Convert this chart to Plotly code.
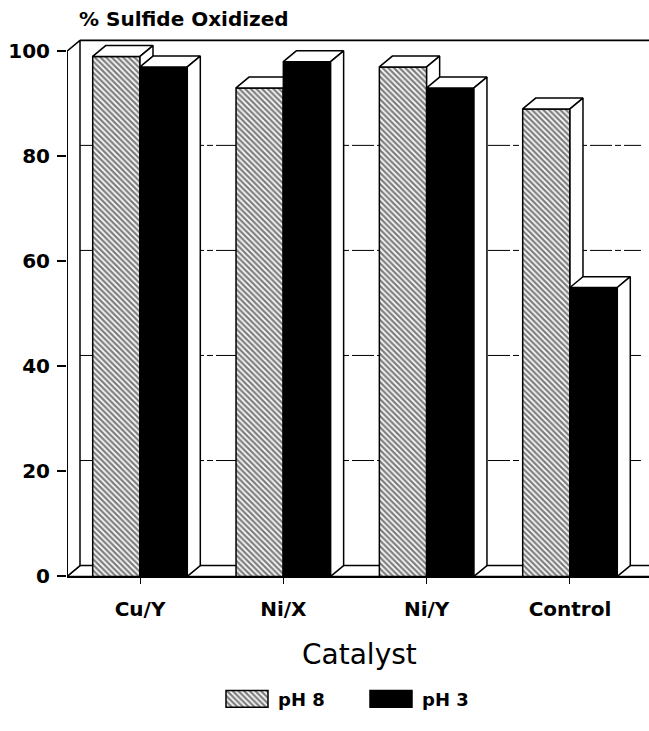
import plotly.graph_objects as go

# ---- data -------------------------------------------------------------
categories = ["Cu/Y", "Ni/X", "Ni/Y", "Control"]
ph8_values = [99, 93, 97, 89]
ph3_values = [97, 98, 93, 55]
series_names = ["pH 8", "pH 3"]
y_tick_values = [0, 20, 40, 60, 80, 100]

# ---- page geometry (pixels) ----------------------------------------------
W, H = 649, 731
PX_LEFT, PX_RIGHT = 67, 649          # plot frame, horizontal
PX_ZERO, PX_TOP = 586, 30            # plot frame, vertical (value 0 at PX_ZERO)
PX_HUNDRED = 52                      # where the value 100 sits
CAT0_PX, CAT_STEP_PX = 140, 143.33   # first category centre and spacing
DEPTH_PX = (13, 11)                  # oblique depth offset (right, up)
GRID_END_PX = 641

UNIT_PX = (PX_ZERO - PX_HUNDRED) / 100.0
x_lo = (PX_LEFT - CAT0_PX) / CAT_STEP_PX
x_hi = (PX_RIGHT - CAT0_PX) / CAT_STEP_PX
y_hi = (PX_ZERO - PX_TOP) / UNIT_PX
dx = DEPTH_PX[0] / CAT_STEP_PX
dy = DEPTH_PX[1] / UNIT_PX
x_grid_end = (GRID_END_PX - CAT0_PX) / CAT_STEP_PX
bar_w = 0.33
y_max = max(y_tick_values)

FONT = "DejaVu Sans"
INK = "black"


def px_x(p):
    return p / W


def px_y(p):
    return 1 - p / H


def face(xs, ys, axes, fill="white", lw=1.5):
    return go.Scatter(
        x=list(xs) + [xs[0]], y=list(ys) + [ys[0]],
        mode="lines", fill="toself", fillcolor=fill,
        line=dict(color=INK, width=lw),
        xaxis=axes[0], yaxis=axes[1],
        hoverinfo="skip", showlegend=False,
    )


def line(xs, ys, axes=("x", "y"), lw=1.5, dash="solid"):
    return go.Scatter(
        x=xs, y=ys, mode="lines",
        line=dict(color=INK, width=lw, dash=dash),
        xaxis=axes[0], yaxis=axes[1],
        hoverinfo="skip", showlegend=False,
    )


fig = go.Figure()
base_axes = ("x", "y")

# floor slab and left wall of the box
fig.add_trace(face([x_lo, x_lo + dx, x_hi + 1, x_hi + 1], [0, dy, dy, 0], base_axes))
fig.add_trace(face([x_lo, x_lo, x_lo + dx, x_lo + dx], [0, y_max, y_max + dy, dy], base_axes))

# dashed grid lines on the back wall
for v in y_tick_values[1:-1]:
    fig.add_trace(line([x_lo + dx, x_grid_end], [v + dy, v + dy], lw=1,
                       dash="22px,3px,6px,3px"))

# top edge of the back wall
fig.add_trace(line([x_lo + dx, x_hi + 1], [y_max + dy, y_max + dy], lw=1.8))

# bars: pH 8 on the second layer, pH 3 on the third so it hides the one behind
hatch = dict(color="white", line=dict(color=INK, width=1.5),
             pattern=dict(shape="\\", fgcolor=INK, bgcolor="white", size=4, solidity=0.58))
solid = dict(color=INK, line=dict(color=INK, width=1.5))
series = [
    (series_names[0], ph8_values, -bar_w, ("x2", "y2"), hatch),
    (series_names[1], ph3_values, 0.0, ("x3", "y3"), solid),
]
positions = list(range(len(categories)))
for name, vals, off, axes, marker in series:
    fig.add_trace(go.Bar(
        x=positions, y=vals, width=bar_w, offset=off, name=name,
        marker=marker, xaxis=axes[0], yaxis=axes[1], showlegend=False,
        hovertext=categories,
    ))
    for c, v in zip(positions, vals):
        x0, x1 = c + off, c + off + bar_w
        fig.add_trace(face([x0, x0 + dx, x1 + dx, x1], [v, v + dy, v + dy, v], axes))
        fig.add_trace(face([x1, x1 + dx, x1 + dx, x1], [0, dy, v + dy, v], axes))

# front value axis line
fig.add_trace(line([x_lo, x_lo], [0, y_max], lw=1.8))

# legend swatches drawn with their own bars
leg_x = [247, 391]
leg_w = 42
leg_top, leg_bot = 702, 719
for lx, marker in zip(leg_x, [hatch, solid]):
    fig.add_trace(go.Bar(
        x=[lx], y=[leg_bot - leg_top], base=[H - leg_bot], width=leg_w,
        marker=marker, xaxis="x4", yaxis="y4", showlegend=False, hoverinfo="skip"))

x_dom = [PX_LEFT / W, PX_RIGHT / W]
y_dom = [1 - PX_ZERO / H, 1 - PX_TOP / H]
hidden = dict(visible=False, fixedrange=True)

fig.update_layout(
    width=W, height=H,
    margin=dict(l=0, r=0, t=0, b=0),
    paper_bgcolor="white", plot_bgcolor="rgba(0,0,0,0)",
    barmode="overlay",
    font=dict(family=FONT, color=INK),
    xaxis=dict(
        domain=x_dom, range=[x_lo, x_hi],
        tickvals=positions, ticktext=categories,
        ticks="outside", ticklen=6, tickwidth=1.2, tickcolor=INK,
        tickfont=dict(family=FONT, size=20, color=INK, weight="bold"),
        showgrid=False, zeroline=False, showline=True, linecolor=INK, linewidth=1.8,
        ticklabelstandoff=8,
    ),
    yaxis=dict(
        domain=y_dom, range=[0, y_hi],
        tickvals=y_tick_values,
        ticks="outside", ticklen=9, tickwidth=1.5, tickcolor=INK,
        tickfont=dict(family=FONT, size=20, color=INK, weight="bold"),
        showgrid=False, zeroline=False, showline=False,
        ticklabelstandoff=3,
    ),
    xaxis2=dict(overlaying="x", range=[x_lo, x_hi], **hidden),
    yaxis2=dict(overlaying="y", range=[0, y_hi], **hidden),
    xaxis3=dict(overlaying="x", range=[x_lo, x_hi], **hidden),
    yaxis3=dict(overlaying="y", range=[0, y_hi], **hidden),
    xaxis4=dict(domain=[0, 1], range=[0, W], anchor="y4", **hidden),
    yaxis4=dict(domain=[0, 1], range=[0, H], anchor="x4", **hidden),
    annotations=[
        dict(text="% Sulfide Oxidized", x=px_x(77), y=px_y(19), xref="paper", yref="paper",
             xanchor="left", yanchor="middle", showarrow=False,
             font=dict(family=FONT, size=20, color=INK, weight="bold")),
        dict(text="Catalyst", x=px_x(360), y=px_y(665), xref="paper", yref="paper",
             xanchor="center", yanchor="middle", showarrow=False,
             font=dict(family=FONT, size=28, color=INK)),
        dict(text=series_names[0], x=px_x(276), y=px_y(711), xref="paper", yref="paper",
             xanchor="left", yanchor="middle", showarrow=False,
             font=dict(family=FONT, size=18, color=INK, weight="bold")),
        dict(text=series_names[1], x=px_x(420), y=px_y(711), xref="paper", yref="paper",
             xanchor="left", yanchor="middle", showarrow=False,
             font=dict(family=FONT, size=18, color=INK, weight="bold")),
    ],
)

fig.write_html("out.html")
